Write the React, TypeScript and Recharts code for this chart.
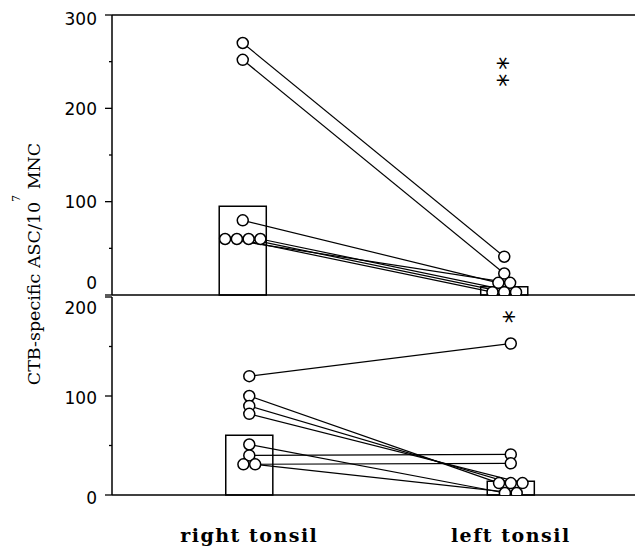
import React from 'react';
import {
  ComposedChart,
  Line,
  Scatter,
  XAxis,
  YAxis,
  ReferenceArea,
  ReferenceLine,
  ReferenceDot,
} from 'recharts';

// ---------------- data ----------------
const categories = ['right tonsil', 'left tonsil'];
const categoryX = [1, 3];

// upper panel (paired values, right tonsil -> left tonsil)
const topRight = [270, 252, 80, 60, 60, 60, 60];
const topLeft = [41, 23, 13, 13, 3, 3, 3];
const topTicks = [0, 50, 100, 150, 200, 250, 300];
const topSignificance = '**';

// lower panel
const bottomRight = [120, 100, 90, 82, 51, 40, 31, 31];
const bottomLeft = [153, 12, 12, 12, 2, 41, 32, 2];
const bottomTicks = [0, 50, 100, 150, 200];
const bottomSignificance = '*';

// ---------------- helpers ----------------
const DODGE = 0.09; // horizontal spacing of tied points, in x units
const BAR_HALF = 0.18;

function dodge(vals: number[]): number[] {
  const counts: Record<number, number> = {};
  vals.forEach((v) => (counts[v] = (counts[v] || 0) + 1));
  const seen: Record<number, number> = {};
  return vals.map((v) => {
    const i = seen[v] || 0;
    seen[v] = i + 1;
    return (i - (counts[v] - 1) / 2) * DODGE;
  });
}

function geoMean(vals: number[]): number {
  const s = vals.reduce((a, v) => a + Math.log(v), 0);
  return Math.exp(s / vals.length);
}

const Dot = (props: any) => {
  const { cx, cy } = props;
  if (cx == null || cy == null) return null;
  return <circle cx={cx} cy={cy} r={5.5} fill="#fff" stroke="#000" strokeWidth={1.5} />;
};

const makeYTick = (nudge: Record<number, number>) => (props: any) => {
  const { x, y, payload } = props;
  const v = payload.value;
  const major = v % 100 === 0;
  return (
    <g>
      <line x1={x} x2={x - (major ? 7 : 3)} y1={y} y2={y} stroke="#000" strokeWidth={1.3} />
      {major && (
        <text
          x={x - 15}
          y={y + (nudge[v] || 0)}
          textAnchor="end"
          dominantBaseline="central"
          fontFamily="DejaVu Sans"
          fontSize={17}
          fill="#000"
        >
          {v}
        </text>
      )}
    </g>
  );
};

const XTick = (props: any) => {
  const { x, y, payload } = props;
  const idx = categoryX.indexOf(payload.value);
  return (
    <text
      x={x}
      y={y + 45}
      textAnchor="middle"
      fontFamily="DejaVu Serif"
      fontWeight="bold"
      fontSize={19}
      letterSpacing={1.5}
      fill="#000"
    >
      {categories[idx]}
    </text>
  );
};

// significance stars, written as one text turned on its side so they stack
const SigLabel = (text: string) => (props: any) => {
  const { viewBox } = props;
  const cx = viewBox.x + (viewBox.width || 0) / 2;
  const cy = viewBox.y + (viewBox.height || 0) / 2;
  return (
    <text
      transform={`translate(${cx},${cy}) rotate(90)`}
      x={0}
      y={0}
      dy="0.6em"
      textAnchor="middle"
      fontFamily="DejaVu Sans"
      fontSize={26}
      letterSpacing={4}
      fill="#000"
    >
      {text}
    </text>
  );
};

type PanelProps = {
  right: number[];
  left: number[];
  ticks: number[];
  xDomain: [number, number];
  width: number;
  height: number;
  margin: { top: number; right: number; bottom: number; left: number };
  nudge: Record<number, number>;
  sig: string;
  sigY: number;
  showX: boolean;
  topBorder: boolean;
};

function Panel(p: PanelProps) {
  const ymax = p.ticks[p.ticks.length - 1];
  const ro = dodge(p.right);
  const lo = dodge(p.left);
  const points = [
    ...p.right.map((v, i) => ({ x: categoryX[0] + ro[i], y: v })),
    ...p.left.map((v, i) => ({ x: categoryX[1] + lo[i], y: v })),
  ];
  const gmR = geoMean(p.right);
  const gmL = geoMean(p.left);
  return (
    <ComposedChart width={p.width} height={p.height} margin={p.margin}>
      <XAxis
        type="number"
        dataKey="x"
        domain={p.xDomain}
        allowDataOverflow
        ticks={categoryX}
        tick={p.showX ? <XTick /> : false}
        tickLine={false}
        tickSize={0}
        height={p.showX ? 55 : 1}
        axisLine={{ stroke: '#000', strokeWidth: 1.5 }}
      />
      <YAxis
        type="number"
        dataKey="y"
        domain={[0, ymax]}
        allowDataOverflow
        ticks={p.ticks}
        interval={0}
        width={112}
        tickLine={false}
        tickSize={0}
        tickMargin={0}
        tick={makeYTick(p.nudge)}
        axisLine={{ stroke: '#000', strokeWidth: 1.5 }}
      />
      {p.topBorder && <ReferenceLine y={ymax} stroke="#000" strokeWidth={1.5} />}
      <ReferenceArea
        x1={categoryX[0] - BAR_HALF}
        x2={categoryX[0] + BAR_HALF}
        y1={0}
        y2={gmR}
        fill="#fff"
        fillOpacity={1}
        stroke="#000"
        strokeWidth={1.5}
      />
      <ReferenceArea
        x1={categoryX[1] - BAR_HALF}
        x2={categoryX[1] + BAR_HALF}
        y1={0}
        y2={gmL}
        fill="#fff"
        fillOpacity={1}
        stroke="#000"
        strokeWidth={1.5}
      />
      {p.right.map((v, i) => (
        <Line
          key={i}
          data={[
            { x: categoryX[0] + ro[i], y: v },
            { x: categoryX[1] + lo[i], y: p.left[i] },
          ]}
          dataKey="y"
          stroke="#000"
          strokeWidth={1.2}
          dot={false}
          activeDot={false}
          isAnimationActive={false}
          type="linear"
        />
      ))}
      <Scatter data={points} dataKey="y" shape={<Dot />} isAnimationActive={false} />
      <ReferenceDot
        x={categoryX[1]}
        y={p.sigY}
        r={0}
        fill="none"
        stroke="none"
        label={SigLabel(p.sig)}
      />
    </ComposedChart>
  );
}

export default function App() {
  return (
    <div
      style={{
        position: 'absolute',
        left: 0,
        top: 0,
        width: 635,
        height: 550,
        background: '#fff',
        overflow: 'hidden',
      }}
    >
      <div style={{ position: 'absolute', left: 0, top: 0 }}>
        <Panel
          right={topRight}
          left={topLeft}
          ticks={topTicks}
          xDomain={[0, 4]}
          width={635}
          height={300}
          margin={{ top: 15, right: 0, bottom: 4, left: 0 }}
          nudge={{ 300: 4, 200: 1, 0: -12 }}
          sig={topSignificance}
          sigY={237}
          showX={false}
          topBorder={true}
        />
      </div>
      <div style={{ position: 'absolute', left: 0, top: 295 }}>
        <Panel
          right={bottomRight}
          left={bottomLeft}
          ticks={bottomTicks}
          xDomain={[-0.05, 3.95]}
          width={635}
          height={255}
          margin={{ top: 2, right: 0, bottom: 0, left: 0 }}
          nudge={{ 200: 11, 100: 2, 0: 3 }}
          sig={bottomSignificance}
          sigY={178}
          showX={true}
          topBorder={false}
        />
      </div>
      <svg width={60} height={550} style={{ position: 'absolute', left: 0, top: 0 }}>
        <text
          transform="translate(40,264) rotate(-90)"
          textAnchor="middle"
          fontFamily="DejaVu Serif"
          fontSize={17.5}
          fill="#000"
        >
          CTB-specific ASC/10
          <tspan dy={-20} fontSize={11}>7</tspan>
          <tspan dy={20}> MNC</tspan>
        </text>
      </svg>
    </div>
  );
}
